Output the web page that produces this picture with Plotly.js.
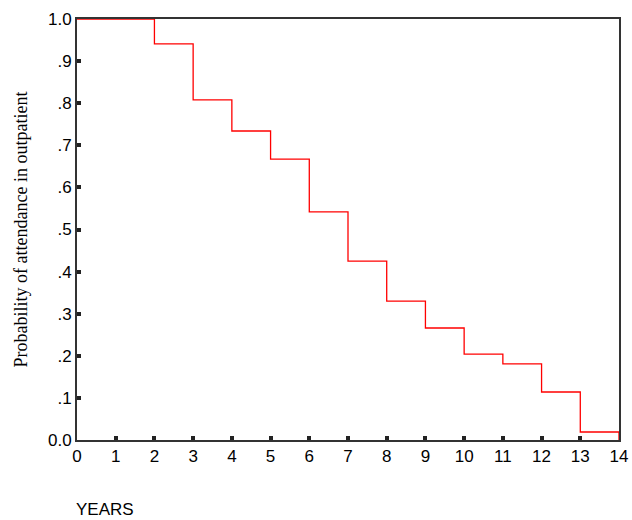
<!DOCTYPE html>
<html><head><meta charset="utf-8">
<script src="https://cdn.plot.ly/plotly-3.0.1.min.js"></script>
<style>body{margin:0;background:#fff}#c{width:632px;height:520px}</style>
</head><body><div id="c"></div>
<script>
// Kaplan-Meier style step curve
const years = [0, 2, 3, 4, 5, 6, 7, 8, 9, 10, 11, 12, 13, 14, 14];
const prob  = [1.0, 0.941, 0.808, 0.734, 0.667, 0.542, 0.425, 0.330, 0.266, 0.204, 0.181, 0.114, 0.019, 0.019, 0.0];
const yTickVals = [0, .1, .2, .3, .4, .5, .6, .7, .8, .9, 1];
const yTickText = ['0.0', '.1', '.2', '.3', '.4', '.5', '.6', '.7', '.8', '.9', '1.0'];

Plotly.newPlot('c', [{
  x: years, y: prob, mode: 'lines', type: 'scatter',
  line: { color: '#ff0000', width: 1.3, shape: 'hv' }, hoverinfo: 'skip'
}], {
  width: 632, height: 520, paper_bgcolor: '#fff', plot_bgcolor: '#fff',
  margin: { l: 77, r: 13, t: 19, b: 80 },
  showlegend: false,
  font: { family: 'Arial, Liberation Sans, sans-serif', size: 17, color: '#000' },
  xaxis: {
    range: [0, 14], tickvals: [0,1,2,3,4,5,6,7,8,9,10,11,12,13,14],
    ticks: 'inside', ticklen: 4, tickwidth: 4, tickcolor: '#222',
    showgrid: false, zeroline: false, showline: true, linecolor: '#333', linewidth: 2, mirror: true
  },
  yaxis: {
    range: [0, 1], tickvals: yTickVals, ticktext: yTickText,
    ticks: 'inside', ticklen: 4, tickwidth: 4, tickcolor: '#222',
    showgrid: false, zeroline: false, showline: true, linecolor: '#333', linewidth: 2, mirror: true,
    title: { text: 'Probability of attendance in outpatient', standoff: 16,
      font: { family: 'Liberation Serif, Times New Roman, serif', size: 18 } }
  },
  annotations: [{ text: 'YEARS', xref: 'paper', yref: 'paper', x: -0.005, y: -0.166,
    xanchor: 'left', yanchor: 'middle', showarrow: false,
    font: { family: 'Arial, Liberation Sans, sans-serif', size: 17 } }]
}, { displayModeBar: false, staticPlot: true });
</script></body></html>
